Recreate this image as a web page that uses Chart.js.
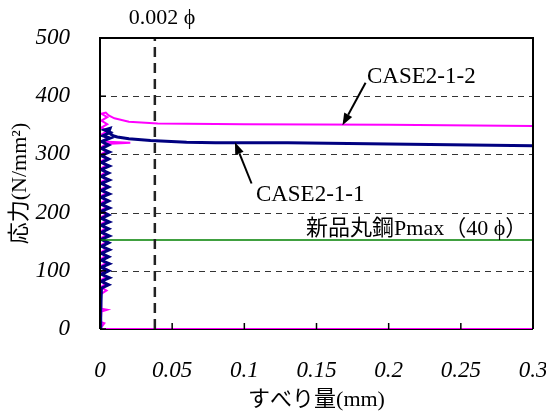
<!DOCTYPE html>
<html>
<head>
<meta charset="utf-8">
<script src="https://cdn.jsdelivr.net/npm/chart.js@4"></script>
<style>
html,body{margin:0;padding:0;background:#fff;}
#wrap{width:546px;height:414px;position:relative;}
</style>
</head>
<body>
<div id="wrap"><canvas id="c" width="546" height="414"></canvas></div>
<script>
// ---- data ----
const xTickValues = [0, 0.05, 0.1, 0.15, 0.2, 0.25, 0.3];
const xTickLabels = ['0', '0.05', '0.1', '0.15', '0.2', '0.25', '0.3'];
const yTickValues = [0, 100, 200, 300, 400, 500];
const yTickLabels = ['0', '100', '200', '300', '400', '500'];

const case211X = [0, 0.0005, 0.001,
  0.006, 0.0008, 0.0065, 0.001, 0.006, 0.0008, 0.0065, 0.001, 0.006, 0.0008, 0.0065, 0.001,
  0.006, 0.0008, 0.0065, 0.001, 0.006, 0.0008, 0.0065, 0.001, 0.006, 0.0008, 0.0065, 0.001,
  0.006, 0.0008, 0.0065, 0.001, 0.006, 0.0008, 0.0065, 0.001, 0.006, 0.0008, 0.0065, 0.001,
  0.006, 0.0008, 0.0065, 0.001, 0.006,
  0.001, 0.007, 0.002, 0.007, 0.003, 0.007, 0.006, 0.009, 0.012, 0.02, 0.035, 0.06, 0.08, 0.13, 0.2, 0.3];
const case211Y = [0, 30, 70,
  76, 82, 88, 94, 100, 106, 112, 118, 124, 130, 136, 142,
  148, 154, 160, 166, 172, 178, 184, 190, 196, 202, 208, 214,
  220, 226, 232, 238, 244, 250, 256, 262, 268, 274, 280, 286,
  292, 298, 304, 310, 316,
  322, 328, 332, 338, 342, 345, 338, 332, 330, 327, 324, 321, 320, 320, 318, 315];

const case212X = [0.3, 0, 0.003, 0.0005, 0.001, 0.005, 0.001,
  0.0005, 0.0045, 0.0005, 0.004, 0.0005, 0.0045, 0.0008, 0.005, 0.0005, 0.0045, 0.0005, 0.004,
  0.0008, 0.0045, 0.0005, 0.005, 0.0005, 0.0045, 0.0008, 0.004, 0.0005, 0.0045, 0.0005, 0.005,
  0.0008, 0.0045, 0.0005, 0.004, 0.0005, 0.0045, 0.0008, 0.005, 0.0005, 0.0045, 0.0005, 0.004,
  0.0008, 0.0045, 0.0005, 0.005, 0.0005, 0.0045, 0.0008, 0.004,
  0.021, 0.001, 0.005, 0.001, 0.005, 0.001, 0.005, 0.001, 0.005, 0.001, 0.004, 0.006, 0.01, 0.02, 0.04, 0.1, 0.2, 0.3];
const case212Y = [0, 0, 10, 12, 30, 33, 35,
  60, 66, 72, 78, 84, 90, 96, 102, 108, 114, 120, 126,
  132, 138, 144, 150, 156, 162, 168, 174, 180, 186, 192, 198,
  204, 210, 216, 222, 228, 234, 240, 246, 252, 258, 264, 270,
  276, 282, 288, 294, 300, 306, 312, 318,
  320, 322, 328, 334, 340, 346, 352, 358, 364, 370, 372, 367, 362, 356, 353, 352, 351, 349];

const pmaxX = [0, 0.3];
const pmaxY = [153, 153];

const refLineX = [0.038, 0.038];
const refLineY = [0, 500];

const labelCase212 = 'CASE2-1-2';
const labelCase211 = 'CASE2-1-1';
const labelPmax = '新品丸鋼Pmax（40 ϕ）';
const labelRef = '0.002 ϕ';
const xTitle = 'すべり量(mm)';
const yTitle = '応力(N/mm²)';

function pts(xs, ys) { return xs.map((x, i) => ({x: x, y: ys[i]})); }

const SERIF = '"Liberation Serif", "Times New Roman", "Noto Sans CJK JP", serif';

const decor = {
  id: 'decor',
  beforeDatasetsDraw(chart) {
    const {ctx, chartArea: a, scales: {x, y}} = chart;
    ctx.save();
    ctx.strokeStyle = '#333';
    ctx.lineWidth = 1;
    ctx.setLineDash([6, 5]);
    [100, 200, 300, 400].forEach(v => {
      const py = Math.round(y.getPixelForValue(v)) + 0.5;
      ctx.beginPath(); ctx.moveTo(a.left, py); ctx.lineTo(a.right, py); ctx.stroke();
    });
    ctx.setLineDash([]);
    ctx.strokeStyle = '#000';
    ctx.lineWidth = 2;
    ctx.beginPath(); ctx.moveTo(a.left, a.bottom); ctx.lineTo(a.right, a.bottom); ctx.stroke();
    ctx.restore();
  },
  afterDatasetsDraw(chart) {
    const {ctx, chartArea: a, scales: {x, y}} = chart;
    ctx.save();
    ctx.strokeStyle = '#000';
    ctx.lineWidth = 2;
    ctx.beginPath();
    ctx.moveTo(a.left, a.bottom); ctx.lineTo(a.left, a.top); ctx.lineTo(a.right, a.top); ctx.lineTo(a.right, a.bottom);
    ctx.stroke();
    ctx.lineWidth = 1.5;
    xTickValues.forEach(v => {
      const px = x.getPixelForValue(v);
      ctx.beginPath(); ctx.moveTo(px, a.bottom); ctx.lineTo(px, a.bottom - 6); ctx.stroke();
    });
    yTickValues.forEach(v => {
      const py = y.getPixelForValue(v);
      ctx.beginPath(); ctx.moveTo(a.left, py); ctx.lineTo(a.left + 6, py); ctx.stroke();
    });
    ctx.fillStyle = '#000';
    ctx.textBaseline = 'middle';
    ctx.font = '23px ' + SERIF;
    ctx.textAlign = 'left';
    ctx.fillText(labelCase212, x.getPixelForValue(0.185), y.getPixelForValue(433));
    ctx.fillText(labelCase211, x.getPixelForValue(0.108), y.getPixelForValue(231));
    ctx.textAlign = 'right';
    ctx.font = '22px ' + SERIF;
    ctx.fillText(labelPmax, x.getPixelForValue(0.296), y.getPixelForValue(172));
    ctx.textAlign = 'center';
    ctx.font = '22px ' + SERIF;
    ctx.fillText(labelRef, x.getPixelForValue(0.043), y.getPixelForValue(534));
    const arrow = (x0, y0, x1, y1) => {
      const p0 = [x.getPixelForValue(x0), y.getPixelForValue(y0)];
      const p1 = [x.getPixelForValue(x1), y.getPixelForValue(y1)];
      const ang = Math.atan2(p1[1] - p0[1], p1[0] - p0[0]);
      const hl = 12, hw = 4.5;
      const bx = p1[0] - hl * Math.cos(ang), by = p1[1] - hl * Math.sin(ang);
      ctx.lineWidth = 2;
      ctx.beginPath(); ctx.moveTo(p0[0], p0[1]); ctx.lineTo(bx, by); ctx.stroke();
      ctx.beginPath();
      ctx.moveTo(p1[0], p1[1]);
      ctx.lineTo(bx + hw * Math.sin(ang), by - hw * Math.cos(ang));
      ctx.lineTo(bx - hw * Math.sin(ang), by + hw * Math.cos(ang));
      ctx.closePath(); ctx.fill();
    };
    arrow(0.184, 423, 0.168, 350);
    arrow(0.105, 250, 0.0935, 321);
    ctx.restore();
  }
};

new Chart(document.getElementById('c'), {
  type: 'scatter',
  data: {
    datasets: [
      {label: 'ref', data: pts(refLineX, refLineY), showLine: true, borderColor: '#222', borderWidth: 2.5, borderDash: [10, 6], pointRadius: 0, fill: false},
      {label: 'Pmax', data: pts(pmaxX, pmaxY), showLine: true, borderColor: '#008000', borderWidth: 1.5, pointRadius: 0, fill: false},
      {label: labelCase211, data: pts(case211X, case211Y), showLine: true, borderColor: '#000080', borderWidth: 3, pointRadius: 0, fill: false, tension: 0},
      {label: labelCase212, data: pts(case212X, case212Y), showLine: true, borderColor: '#FF00FF', borderWidth: 2, pointRadius: 0, fill: false, tension: 0}
    ]
  },
  options: {
    responsive: false,
    animation: false,
    layout: {padding: {top: 38, right: 13, left: 0, bottom: 0}},
    plugins: {legend: {display: false}, tooltip: {enabled: false}},
    scales: {
      x: {
        type: 'linear', min: 0, max: 0.3,
        grid: {display: false, drawTicks: false},
        border: {display: false},
        afterBuildTicks: s => { s.ticks = xTickValues.map(v => ({value: v})); },
        afterFit: s => { s.height = 85; s.paddingLeft = 0; s.paddingRight = 0; },
        ticks: {
          padding: 28, color: '#000', maxRotation: 0, autoSkip: false,
          font: {family: SERIF, size: 23, style: 'italic'},
          callback: (v, i) => xTickLabels[i]
        },
        title: {display: true, text: xTitle, color: '#000', padding: {top: 0, bottom: 1}, font: {family: SERIF, size: 22}}
      },
      y: {
        type: 'linear', min: 0, max: 500,
        grid: {display: false, drawTicks: false},
        border: {display: false},
        afterBuildTicks: s => { s.ticks = yTickValues.map(v => ({value: v})); },
        afterFit: s => { s.width = 100; s.paddingTop = 0; s.paddingBottom = 0; },
        ticks: {
          padding: 30, color: '#000',
          font: {family: SERIF, size: 23, style: 'italic'},
          callback: (v, i) => yTickLabels[i]
        },
        title: {display: true, text: yTitle, color: '#000', padding: {top: 7, bottom: 0}, font: {family: SERIF, size: 22}}
      }
    }
  },
  plugins: [decor]
});
</script>
</body>
</html>
